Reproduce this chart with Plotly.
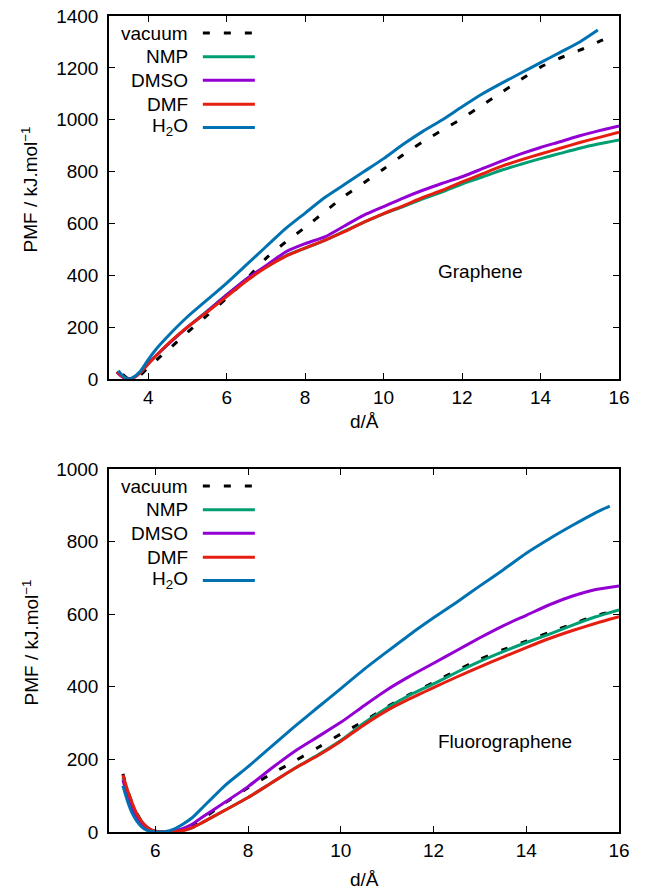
import plotly.graph_objects as go

# ---------------- Graphene (top panel) ----------------
g_d_common = [3.2, 3.3, 3.4, 3.5, 3.6, 3.8, 4.0, 4.5, 5.0, 5.5, 6.0, 6.5, 7.0, 7.5, 8.0,
              8.5, 9.0, 9.5, 10.0, 10.5, 11.0, 11.5, 12.0, 12.5, 13.0, 13.5, 14.0,
              14.5, 15.0, 15.5, 16.0]
g_nmp = [28, 14, 4, 0, 3, 25, 60, 133, 200, 262, 325, 385, 432, 475, 505,
         535, 570, 605, 637, 665, 695, 722, 752, 778, 805, 828, 850,
         870, 890, 907, 922]
g_dmso = [26, 12, 3, 0, 3, 25, 60, 133, 200, 260, 324, 385, 437, 490, 522,
          548, 590, 632, 665, 698, 728, 755, 780, 810, 840, 868, 893,
          915, 938, 958, 976]
g_dmf = [28, 14, 4, 0, 3, 25, 58, 135, 200, 258, 318, 378, 430, 473, 505,
         535, 568, 605, 638, 668, 700, 728, 760, 790, 820, 845, 868,
         890, 912, 932, 952]

g_d_vac = [3.35, 3.45, 3.55, 3.65, 3.8, 4.0, 4.3, 4.6, 5.0, 5.5, 6.0, 6.5, 7.0, 7.5,
           8.0, 8.5, 9.0, 9.5, 10.0, 10.5, 11.0, 11.5, 12.0, 12.5, 13.0, 13.5,
           14.0, 14.5, 15.0, 15.5, 15.9]
g_vac = [18, 5, 0, 2, 15, 45, 85, 125, 180, 245, 312, 385, 465, 528,
         585, 645, 705, 757, 810, 865, 915, 960, 1005, 1055, 1105, 1155,
         1203, 1238, 1268, 1302, 1325]

g_d_h2o = [3.24, 3.3, 3.4, 3.5, 3.6, 3.8, 4.0, 4.2, 4.5, 5.0, 5.5, 6.0, 6.5, 7.0,
           7.5, 8.0, 8.5, 9.0, 9.5, 10.0, 10.5, 11.0, 11.5, 12.0, 12.5, 13.0,
           13.5, 14.0, 14.5, 15.0, 15.46]
g_h2o = [32, 20, 6, 0, 5, 30, 75, 115, 165, 240, 305, 370, 440, 510,
         580, 640, 700, 750, 800, 850, 905, 955, 1000, 1050, 1098, 1140,
         1180, 1220, 1260, 1300, 1346]

# ---------------- Fluorographene (bottom panel) ----------------
f_d = [5.3, 5.4, 5.5, 5.6, 5.7, 5.8, 5.9, 6.0, 6.2, 6.4, 6.6, 6.8, 7.0, 7.5, 8.0,
       8.5, 9.0, 9.5, 10.0, 10.5, 11.0, 11.5, 12.0, 12.5, 13.0, 13.5, 14.0,
       14.5, 15.0, 15.5, 16.0]
f_nmp = [150, 110, 77, 48, 29, 15, 6, 2, 0, 1, 4, 12, 25, 60, 95,
         135, 175, 212, 252, 300, 342, 378, 408, 440, 470, 497, 522,
         545, 570, 593, 612]
f_dmso = [143, 100, 68, 42, 24, 12, 5, 1, 0, 3, 10, 22, 40, 82, 125,
          175, 222, 262, 302, 348, 392, 430, 465, 500, 535, 568, 597,
          626, 650, 668, 678]
f_dmf = [157, 115, 80, 50, 30, 16, 7, 2, 0, 1, 4, 12, 25, 60, 95,
         135, 175, 210, 250, 295, 335, 368, 398, 427, 455, 482, 508,
         533, 555, 575, 593]

f_d_vac = [5.3, 5.4, 5.5, 5.6, 5.7, 5.8, 5.9, 6.0, 6.2, 6.4, 6.6, 6.8, 7.0, 7.5, 8.0,
           8.5, 9.0, 9.5, 10.0, 10.5, 11.0, 11.5, 12.0, 12.5, 13.0, 13.5, 14.0,
           14.5, 15.0, 15.5, 15.9]
f_vac = [160, 115, 80, 52, 30, 15, 6, 2, 0, 2, 8, 20, 35, 80, 122,
         160, 195, 232, 270, 305, 345, 380, 412, 445, 476, 502, 526,
         550, 573, 596, 608]

f_d_h2o = [5.3, 5.4, 5.5, 5.6, 5.7, 5.8, 5.9, 6.0, 6.1, 6.2, 6.4, 6.6, 6.8, 7.0, 7.5,
           8.0, 8.5, 9.0, 9.5, 10.0, 10.5, 11.0, 11.5, 12.0, 12.5, 13.0, 13.5,
           14.0, 14.5, 15.0, 15.5, 15.8]
f_h2o = [127, 85, 52, 30, 15, 6, 2, 0, 0, 1, 8, 22, 40, 65, 128,
         180, 235, 290, 343, 395, 448, 497, 545, 590, 633, 678, 722,
         768, 808, 845, 880, 898]

series_names = ["vacuum", "NMP", "DMSO", "DMF", "H<sub>2</sub>O"]
series_colors = ["#000000", "#009e73", "#9400d3", "#e51e10", "#0072b2"]
series_dash = ["7px,14px", "solid", "solid", "solid", "solid"]

x_ticks_top = [4, 6, 8, 10, 12, 14, 16]
y_ticks_top = [0, 200, 400, 600, 800, 1000, 1200, 1400]
x_ticks_bot = [6, 8, 10, 12, 14, 16]
y_ticks_bot = [0, 200, 400, 600, 800, 1000]

FONT = "Liberation Sans, Arial, Helvetica, sans-serif"
FS = 19
LW = 3

fig = go.Figure()

top_data = [(g_d_vac, g_vac), (g_d_common, g_nmp), (g_d_common, g_dmso),
            (g_d_common, g_dmf), (g_d_h2o, g_h2o)]
bot_data = [(f_d_vac, f_vac), (f_d, f_nmp), (f_d, f_dmso), (f_d, f_dmf),
            (f_d_h2o, f_h2o)]

for (xs, ys), name, col, dash in zip(top_data, series_names, series_colors, series_dash):
    fig.add_trace(go.Scatter(x=xs, y=ys, mode="lines", name=name, showlegend=False,
                             line=dict(color=col, width=LW, dash=dash, shape="spline", smoothing=0.6),
                             xaxis="x", yaxis="y"))
for (xs, ys), name, col, dash in zip(bot_data, series_names, series_colors, series_dash):
    fig.add_trace(go.Scatter(x=xs, y=ys, mode="lines", name=name, showlegend=False,
                             line=dict(color=col, width=LW, dash=dash, shape="spline", smoothing=0.6),
                             xaxis="x2", yaxis="y2"))

W, H = 657, 891
xl, xr = 109, 619
top_t, top_b = 16, 379
bot_t, bot_b = 469, 832

axis_common = dict(showline=True, linecolor="black", linewidth=1.5, mirror="ticks",
                   ticks="inside", ticklen=6, tickwidth=1, tickcolor="black",
                   showgrid=False, zeroline=False, automargin=False,
                   tickfont=dict(family=FONT, size=FS, color="black"))

fig.update_layout(
    template="none",
    width=W, height=H, margin=dict(l=0, r=0, t=0, b=0, pad=0, autoexpand=False),
    paper_bgcolor="white", plot_bgcolor="white", showlegend=False,
    font=dict(family=FONT, size=FS, color="black"),
    xaxis=dict(domain=[xl / W, xr / W], range=[3, 16], tickvals=x_ticks_top,
               anchor="y", **axis_common),
    yaxis=dict(domain=[(H - top_b) / H, (H - top_t) / H], range=[0, 1400],
               tickvals=y_ticks_top, anchor="x", ticklabelstandoff=5, **axis_common),
    xaxis2=dict(domain=[xl / W, xr / W], range=[5, 16], tickvals=x_ticks_bot,
                anchor="y2", **axis_common),
    yaxis2=dict(domain=[(H - bot_b) / H, (H - bot_t) / H], range=[0, 1000],
                tickvals=y_ticks_bot, anchor="x2", ticklabelstandoff=5, **axis_common),
)

annotations = []
shapes = []
row_y = [0.953, 0.888, 0.823, 0.757, 0.693]
for xa, ya in [("x", "y"), ("x2", "y2")]:
    for name, col, dash, ry in zip(series_names, series_colors, series_dash, row_y):
        annotations.append(dict(text=name, xref=xa + " domain", yref=ya + " domain",
                                x=0.159, y=ry, xanchor="right", yanchor="middle",
                                showarrow=False, font=dict(family=FONT, size=FS, color="black")))
        shapes.append(dict(type="line", xref=xa + " domain", yref=ya + " domain",
                           x0=0.184, x1=0.286, y0=ry, y1=ry,
                           line=dict(color=col, width=LW, dash=dash)))

annotations.append(dict(text="Graphene", xref="x domain", yref="y domain", x=0.729, y=0.295,
                        xanchor="center", yanchor="middle", showarrow=False,
                        font=dict(family=FONT, size=FS, color="black")))
annotations.append(dict(text="Fluorographene", xref="x2 domain", yref="y2 domain", x=0.776, y=0.248,
                        xanchor="center", yanchor="middle", showarrow=False,
                        font=dict(family=FONT, size=FS, color="black")))

# axis titles
for ycen, xcen_y in [((top_t + top_b) / 2 - 8, 422), ((bot_t + bot_b) / 2 - 8, 879)]:
    annotations.append(dict(text="PMF / kJ.mol<sup>−1</sup>", xref="paper", yref="paper",
                            x=30 / W, y=(H - ycen) / H, xanchor="center", yanchor="middle",
                            textangle=-90, showarrow=False,
                            font=dict(family=FONT, size=FS, color="black")))
    annotations.append(dict(text="d/Å", xref="paper", yref="paper",
                            x=((xl + xr) / 2) / W, y=(H - xcen_y) / H, xanchor="center",
                            yanchor="middle", showarrow=False,
                            font=dict(family=FONT, size=FS, color="black")))

fig.update_layout(annotations=annotations, shapes=shapes)

fig.write_html("out.html", config={"displayModeBar": False},
               post_script="document.body.style.margin='0';document.body.style.overflow='hidden';")
